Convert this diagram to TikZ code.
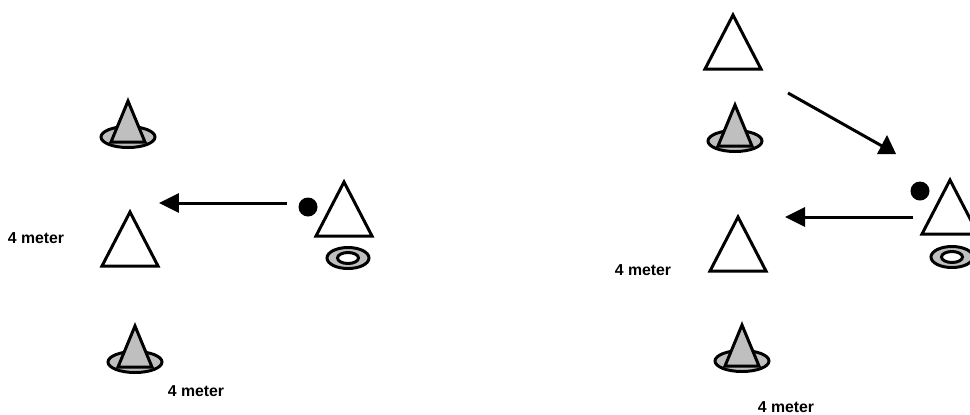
\documentclass[tikz,border=0pt]{standalone}
\usepackage{fontspec}
\setsansfont{Liberation Sans}
\usetikzlibrary{arrows.meta}

\tikzset{
  outline/.style={draw=black, line width=1.7pt, line join=miter},
  conegray/.style={fill=black!25},
  ball/.style={circle, fill=black, inner sep=0pt, minimum size=0.38cm},
  distlabel/.style={font=\sffamily\bfseries\fontsize{9}{10}\selectfont},
  run/.style={line width=1.7pt, -{Triangle[length=0.4cm, width=0.38cm]}},
  cone/.pic={
    \draw[outline, conegray] (0,0) ellipse (27 and 10.5);
    \draw[outline, conegray] (0,-36) -- (-17,5) -- (17,5) -- cycle;
  },
  marker/.pic={
    \draw[outline, fill=white] (0,-54) -- (-28,0) -- (28,0) -- cycle;
  },
  hoop/.pic={
    \draw[outline, conegray] (0,0) ellipse (21 and 10.5);
    \draw[outline, fill=white] (0,0) ellipse (10.5 and 5.5);
  }
}

\begin{document}
\begin{tikzpicture}[x=0.02cm, y=-0.02cm]
    \clip (0,0) rectangle (970,414);

    % Left drill
    \pic at (128,137) {cone};
    \pic at (130,266) {marker};
    \pic at (135,362) {cone};
    \pic at (344,236) {marker};
    \pic at (348,258) {hoop};
    \node[ball] (ballA) at (308,207) {};
    \coordinate (runAstart) at (287,203);
    \coordinate (runAend) at (159,203);
    \draw[run] (runAstart) -- (runAend);
    \node[distlabel] (sideA) at (36,238) {4 meter};
    \node[distlabel] (baseA) at (196,391) {4 meter};

    % Right drill
    \pic at (733,69) {marker};
    \pic at (735,141) {cone};
    \pic at (738,271) {marker};
    \pic at (742,361) {cone};
    \pic at (950,234) {marker};
    \pic at (952,257) {hoop};
    \node[ball] (ballB) at (920,191) {};
    \coordinate (runBstart) at (913,217);
    \coordinate (runBend) at (785,217);
    \draw[run] (runBstart) -- (runBend);

    % Diagonal run with upright tip
    \coordinate (runCstart) at (788,93);
    \coordinate (runCend) at (882,146);
    \draw[line width=1.7pt] (runCstart) -- (runCend);
    \fill (887,135) -- (877,154) -- (896,154) -- cycle;

    \node[distlabel] (sideB) at (643,270) {4 meter};
    \node[distlabel] (baseB) at (786,407) {4 meter};
\end{tikzpicture}
\end{document}
